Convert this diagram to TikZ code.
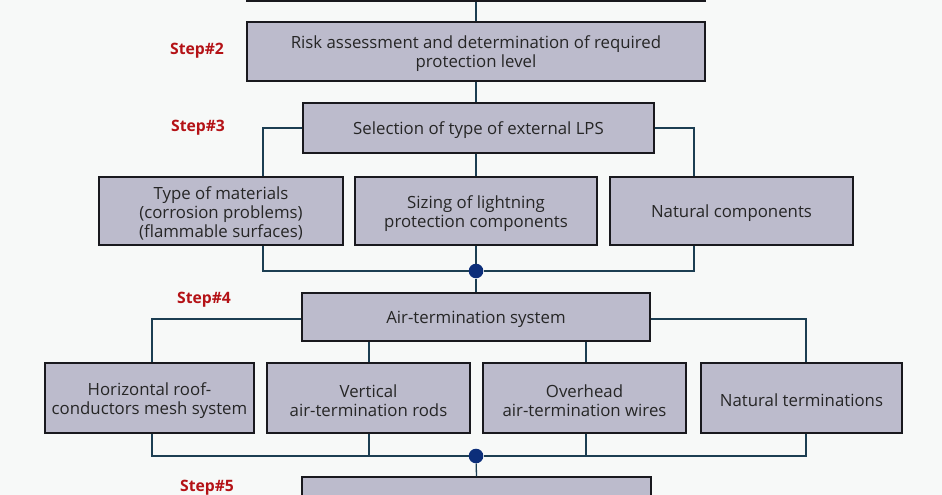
\documentclass[tikz,border=0pt]{standalone}
\usepackage{fontspec}
\setmainfont{Open Sans}
\usetikzlibrary{calc}
\definecolor{bgc}{RGB}{247,249,248}
\definecolor{boxfill}{RGB}{188,187,204}
\definecolor{boxline}{RGB}{25,25,30}
\definecolor{connline}{RGB}{28,62,82}
\definecolor{dotc}{RGB}{12,46,122}
\definecolor{stepred}{RGB}{180,18,22}
\newcommand{\lowr}{\rule{0pt}{18pt}}
\begin{document}
\begin{tikzpicture}[x=1pt,y=-1pt,
  box/.style={draw=boxline, fill=boxfill, line width=1.2pt, align=center,
    inner sep=0pt, text=black!85, font=\fontsize{16.8}{19}\selectfont},
  conn/.style={draw=connline, line width=1.3pt},
  junction/.style={circle, fill=dotc, inner sep=0pt, minimum size=14.6pt},
  steplbl/.style={text=stepred, font=\fontsize{15.7}{17}\selectfont\bfseries}]
\fill[bgc] (0,0) rectangle (942,495);
\useasboundingbox (0,0) rectangle (942,495);

% boxes
\node[box, minimum width=458pt, minimum height=61pt] (top) at (476,-29.5) {};
\node[box, minimum width=458pt, minimum height=59pt] (s2) at (476,51.5)
  {\lowr Risk assessment and determination of required\\protection level};
\node[box, minimum width=351pt, minimum height=50pt] (s3) at (478.5,128)
  {\lowr Selection of type of external LPS};
\node[box, minimum width=244pt, minimum height=68pt] (m1) at (221,211)
  {\lowr Type of materials\\(corrosion problems)\\(flammable surfaces)};
\node[box, minimum width=242pt, minimum height=68pt] (m2) at (476,211)
  {\lowr Sizing of lightning\\protection components};
\node[box, minimum width=243pt, minimum height=68pt] (m3) at (731.5,211)
  {\lowr Natural components};
\node[box, minimum width=348pt, minimum height=48pt] (s4) at (476,317)
  {\lowr Air-termination system};
\node[box, minimum width=209pt, minimum height=70pt] (a) at (149.5,398)
  {\lowr Horizontal roof-\\conductors mesh system};
\node[box, minimum width=203pt, minimum height=70pt] (b) at (368.5,398)
  {\lowr Vertical\\air-termination rods};
\node[box, minimum width=203pt, minimum height=70pt] (c) at (584.5,398)
  {\lowr Overhead\\air-termination wires};
\node[box, minimum width=201pt, minimum height=70pt] (d) at (801.5,398)
  {\lowr Natural terminations};
\node[box, minimum width=349pt, minimum height=63pt] (s5) at (476.5,508.5) {};

% junctions
\node[junction] (d1) at (476,271) {};
\node[junction] (d2) at (476,456) {};

% step labels
\node[steplbl] (l2) at (197,51) {Step\#2};
\node[steplbl] (l3) at (198,128) {Step\#3};
\node[steplbl] (l4) at (204,300) {Step\#4};
\node[steplbl] (l5) at (207,488) {Step\#5};

% connectors
\draw[conn] (top.south) -- (s2.north);
\draw[conn] (s2.south) -- (s2.south |- s3.north);
\draw[conn] (s3.west) -| ([xshift=42pt]m1.north);
\draw[conn] (s3.east) -| ([xshift=-37.5pt]m3.north);
\draw[conn] (s3.south -| m2.north) -- (m2.north);
\draw[conn] ([xshift=42pt]m1.south) |- (d1);
\draw[conn] ([xshift=-37.5pt]m3.south) |- (d1);
\draw[conn] (m2.south) -- (d1);
\draw[conn] (d1) -- (s4.north);
\draw[conn] ([yshift=-2pt]s4.west) -| ([xshift=2.5pt]a.north);
\draw[conn] ([yshift=-2pt]s4.east) -| ([xshift=4.5pt]d.north);
\draw[conn] ([xshift=0.5pt]b.north |- s4.south) -- ([xshift=0.5pt]b.north);
\draw[conn] ([xshift=1.5pt]c.north |- s4.south) -- ([xshift=1.5pt]c.north);
\draw[conn] ([xshift=2.5pt]a.south) |- (d2);
\draw[conn] ([xshift=4.5pt]d.south) |- (d2);
\draw[conn] ([xshift=0.5pt]b.south) -- ([xshift=0.5pt]b.south |- d2);
\draw[conn] ([xshift=1.5pt]c.south) -- ([xshift=1.5pt]c.south |- d2);
\draw[conn] (d2) -- (s5.north);
\end{tikzpicture}
\end{document}
